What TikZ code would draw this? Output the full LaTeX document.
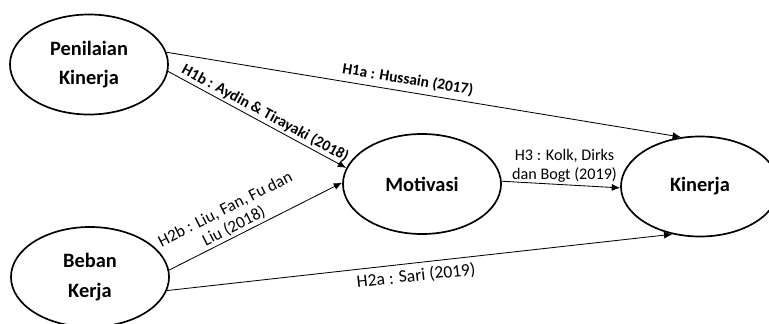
\documentclass[tikz,border=0pt]{standalone}
\usepackage{fontspec}
\setmainfont{Carlito}
\usetikzlibrary{shapes.geometric,arrows.meta}
\tikzset{
  var/.style={draw, ellipse, line width=1.2pt, minimum width=3.95cm, minimum height=2.5cm,
    align=center, font=\bfseries\fontsize{14.5}{21}\selectfont},
  hyp/.style={-{Latex[length=6pt,width=5pt]}, line width=0.6pt},
  lbl/.style={font=\fontsize{11.5}{13.5}\selectfont, inner sep=1.5pt, align=center},
  lblbold/.style={lbl, font=\bfseries\fontsize{11}{13}\selectfont}
}

\begin{document}
\begin{tikzpicture}[x=0.025cm, y=-0.025cm]
    \useasboundingbox (0,0) rectangle (769,323);

    \node[var] (pk) at (89,64.5) {Penilaian\\Kinerja};
    \node[var] (bk) at (90,277) {Beban\\Kerja};
    \node[var] (mo) at (422,184) {Motivasi};
    \node[var] (ki) at (700,186.5) {Kinerja};

    \draw[hyp] (pk.9) -- node[lblbold, above, sloped, pos=0.465, inner sep=3.5pt] {H1a : Hussain (2017)} (ki.111);
    \draw[hyp] (pk.-5) -- node[lblbold, above, sloped, pos=0.52] {H1b : Aydin \& Tirayaki (2018)} (mo.168);
    \draw[hyp] (bk.5) -- node[lbl, above, sloped, pos=0.4, font=\fontsize{12}{13.5}\selectfont] {H2b : Liu, Fan, Fu dan\\Liu (2018)} (mo.179);
    \draw[hyp] (bk.-10) -- node[lbl, below, sloped, pos=0.49, inner sep=3.5pt, font=\fontsize{12.5}{14}\selectfont] {H2a : Sari (2019)} (ki.240);
    \draw[hyp] (mo.2) -- node[lbl, above, pos=0.53] {H3 : Kolk, Dirks\\dan Bogt (2019)} (ki.181);
\end{tikzpicture}
\end{document}
